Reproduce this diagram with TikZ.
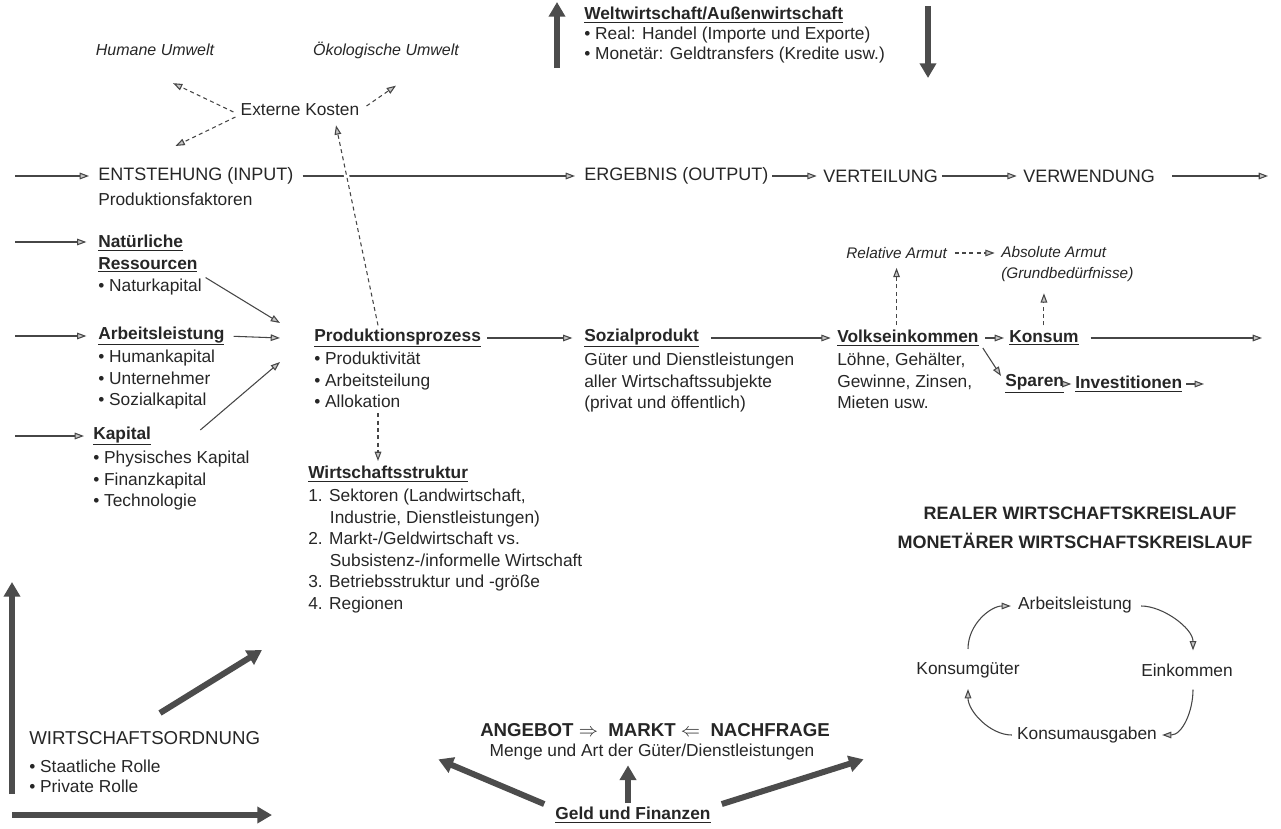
\documentclass[tikz,border=0pt]{standalone}
\usepackage{fontspec}
\setmainfont{Liberation Sans}
\usetikzlibrary{arrows.meta}
\newcommand{\ul}[1]{\underline{\textbf{#1}}}
\tikzset{
  txt/.style={inner sep=0.75pt, text=black!85, align=left, font=\fontsize{13}{16.1}\selectfont},
  big/.style={txt, font=\fontsize{13.5}{16}\selectfont},
  it/.style={txt, font=\fontsize{11.5}{16.1}\selectfont\itshape},
  arr/.style={draw=gray!55!black, line width=0.8pt, -{Triangle[length=7pt,width=5pt,fill=gray!45]}},
  darr/.style={arr, dash pattern=on 3pt off 2.5pt},
  fat/.style={draw=gray!60!black, line width=4.5pt, -{Triangle[length=11pt,width=12pt]}},
}
\begin{document}
\begin{tikzpicture}[x=0.75pt,y=0.75pt,yscale=-1,xscale=1]
\useasboundingbox (0,0) rectangle (1281,828);
% Weltwirtschaft
\node (welt) [txt, anchor=north west, font=\fontsize{13}{15}\selectfont] at (583,6) {\ul{Weltwirtschaft/Außenwirtschaft}\\• Real: Handel (Importe und Exporte)\\• Monetär: Geldtransfers (Kredite usw.)};
\coordinate (wu1) at (557,68); \coordinate (wu2) at (557,2);
\coordinate (wd1) at (928,6); \coordinate (wd2) at (928,78);
\draw [fat] (wu1) -- (wu2);
\draw [fat] (wd1) -- (wd2);
% externe Kosten
\node (hum) [it, font=\fontsize{12}{16}\selectfont\itshape] at (155,50) {Humane Umwelt};
\node (oek) [it, font=\fontsize{12}{16}\selectfont\itshape] at (386,50) {Ökologische Umwelt};
\node (ext) [txt] at (300,110) {Externe Kosten};
\draw [darr] ([shift={(-6,2)}]ext.west) -- ([shift={(18,26)}]hum.south);
\draw [darr] ([shift={(-4,7)}]ext.west) -- ([shift={(-64,36)}]ext.west);
\draw [darr] ([shift={(6,-4)}]ext.east) -- ([shift={(10,26)}]oek.south);
% Hauptreihe
\coordinate (in0) at (15,176);
\node (ent) [big, anchor=west] at (97,176) {ENTSTEHUNG (INPUT)};
\node (entf) [txt, anchor=west] at (97,199) {Produktionsfaktoren};
\node (erg) [big, anchor=west] at (583,176) {ERGEBNIS (OUTPUT)};
\node (vert) [big, anchor=west] at (822,176) {VERTEILUNG};
\node (verw) [big, anchor=west] at (1022,176) {VERWENDUNG};
\coordinate (out0) at (1268,176);
\draw [arr, shorten >=6pt] (in0) -- (ent.west);
\draw [arr, shorten <=6pt, shorten >=6pt] (ent.east) -- (erg.west);
\draw [arr, shorten <=2pt, shorten >=4pt] (erg.east) -- (vert.west);
\draw [arr, shorten <=2pt, shorten >=4pt] (vert.east) -- (verw.west);
\draw [arr, shorten <=12pt] (verw.east) -- (out0);
% Produktionsfaktoren
\node (nat) [txt, anchor=north west] at (97,234) {\ul{Natürliche}\\\ul{Ressourcen}};
\node (natb) [txt, anchor=north west] at (97,278) {• Naturkapital};
\node (arb) [txt, anchor=west] at (97,336) {\ul{Arbeitsleistung}};
\node (arbb) [txt, anchor=north west] at (97,349) {• Humankapital\\• Unternehmer\\• Sozialkapital};
\node (kap) [txt, anchor=west] at (92,436) {\ul{Kapital}};
\node (kapb) [txt, anchor=north west] at (92,450) {• Physisches Kapital\\• Finanzkapital\\• Technologie};
\coordinate (in1) at (15,242); \coordinate (in2) at (15,336); \coordinate (in3) at (15,436);
\draw [arr, shorten >=8pt] (in1) -- (in1 -| nat.west);
\draw [arr, shorten >=8pt] (in2) -- (arb.west);
\draw [arr, shorten >=6pt] (in3) -- (kap.west);
% Produktionsprozess
\node (prod) [txt, anchor=west] at (313,338) {\ul{Produktionsprozess}};
\node (prodb) [txt, anchor=north west] at (313,351) {• Produktivität\\• Arbeitsteilung\\• Allokation};
\coordinate (pin) at (280,338);
\draw [arr, shorten <=6pt] (nat.south east) -- ([shift={(0,-15)}]pin);
\draw [arr, shorten <=6pt] (arb.east) -- (pin);
\draw [arr] ([shift={(48,-6)}]kap.east) -- ([shift={(0,24)}]pin);
\draw [darr, preaction={draw=white, line width=4pt, dash pattern=}] ([shift={(65,-2)}]prod.north west) -- ([shift={(36,8)}]ext.south);
% Wirtschaftsstruktur
\node (ws) [txt, anchor=west] at (307,474) {\ul{Wirtschaftsstruktur}};
\node (wsb) [txt, anchor=north west] at (307,488) {1. Sektoren (Landwirtschaft,\\\hspace*{1.25em}Industrie, Dienstleistungen)\\2. Markt-/Geldwirtschaft vs.\\\hspace*{1.25em}Subsistenz-/informelle Wirtschaft\\3. Betriebsstruktur und -größe\\4. Regionen};
\draw [darr] ([shift={(65,4)}]prodb.south west) -- ([shift={(71,-4)}]ws.north west);
% Sozialprodukt und Volkseinkommen
\node (sp) [txt, anchor=west] at (583,338) {\ul{Sozialprodukt}};
\node (spb) [txt, anchor=north west] at (583,352) {Güter und Dienstleistungen\\aller Wirtschaftssubjekte\\(privat und öffentlich)};
\node (vk) [txt, anchor=west] at (836,338) {\ul{Volkseinkommen}};
\node (vkb) [txt, anchor=north west] at (836,352) {Löhne, Gehälter,\\Gewinne, Zinsen,\\Mieten usw.};
\node (kon) [txt, anchor=west] at (1008,338) {\ul{Konsum}};
\node (spa) [txt, anchor=west] at (1004,384) {\ul{Sparen}};
\node (inv) [txt, anchor=west] at (1074,384) {\ul{Investitionen}};
\coordinate (out1) at (1262,338); \coordinate (out2) at (1262,384);
\draw [arr, shorten <=4pt, shorten >=8pt] (prod.east) -- (sp.west);
\draw [arr, shorten <=8pt, shorten >=4pt] (sp.east) -- (vk.west);
\draw [arr, shorten <=4pt, shorten >=3pt] (vk.east) -- (kon.west);
\draw [arr] ([shift={(3,10)}]vk.east) -- ([shift={(-3,-8)}]spa.west);
\draw [arr, shorten <=8pt] (kon.east) -- (out1);
\draw [arr, shorten <=2pt, shorten >=2pt] (spa.east) -- (inv.west);
\draw [arr, shorten <=2pt] (inv.east) -- ([shift={(-58,0)}]out2);
% Armut
\node (rel) [it, anchor=west] at (845,253) {Relative Armut};
\node (abs) [it, anchor=north west] at (1000,245) {Absolute Armut\\(Grundbedürfnisse)};
\draw [darr, shorten <=5pt, shorten >=4pt] (rel.east) -- (rel.east -| abs.west);
\draw [darr] ([shift={(0,-4)}]vk.north -| rel.south) -- ([shift={(0,8)}]rel.south);
\draw [darr] ([shift={(0,-4)}]kon.north) -- ([shift={(0,10)}]kon.north |- abs.south);
% Kreislauf
\node (real) [txt, font=\fontsize{13.5}{16}\selectfont\bfseries] at (1080,513) {REALER WIRTSCHAFTSKREISLAUF};
\node (mon) [txt, font=\fontsize{13.5}{16}\selectfont\bfseries] at (1075,541) {MONETÄRER WIRTSCHAFTSKREISLAUF};
\node (al) [txt] at (1075,605) {Arbeitsleistung};
\node (ek) [txt] at (1187,670) {Einkommen};
\node (ka) [txt] at (1087,735) {Konsumausgaben};
\node (kg) [txt] at (968,670) {Konsumgüter};
\draw [arr] ([shift={(8,1)}]al.east) .. controls +(22,0) and +(0,-22) .. ([shift={(6,-12)}]ek.north);
\draw [arr] ([shift={(6,12)}]ek.south) .. controls +(0,22) and +(20,0) .. ([shift={(4,0)}]ka.east);
\draw [arr] ([shift={(-4,0)}]ka.west) .. controls +(-22,0) and +(0,22) .. ([shift={(0,10)}]kg.south);
\draw [arr] ([shift={(0,-12)}]kg.north) .. controls +(0,-25) and +(-20,0) .. ([shift={(-6,1)}]al.west);
% Wirtschaftsordnung
\node (wo) [txt, anchor=west, font=\fontsize{14}{16}\selectfont] at (28,738) {WIRTSCHAFTSORDNUNG};
\node (wob) [txt, anchor=north west, font=\fontsize{13}{15}\selectfont] at (28,759) {• Staatliche Rolle\\• Private Rolle};
\coordinate (wo1) at (12,794); \coordinate (wo2) at (12,582);
\coordinate (wo3) at (160,713); \coordinate (wo4) at (262,650);
\coordinate (wo5) at (12,815); \coordinate (wo6) at (272,815);
\draw [fat] (wo1) -- (wo2);
\draw [fat] (wo3) -- (wo4);
\draw [fat] (wo5) -- (wo6);
% Markt
\node (markt) [txt, font=\fontsize{14}{16}\selectfont\bfseries] at (655,730) {ANGEBOT $\Rightarrow$\ \ MARKT $\Leftarrow$\ \ NACHFRAGE};
\node (menge) [txt] at (652,752) {Menge und Art der Güter/Dienstleistungen};
\node (geld) [txt] at (633,815) {\ul{Geld und Finanzen}};
\draw [fat] ([shift={(-10,-2)}]geld.north west) -- ([shift={(-50,-2)}]menge.south west);
\draw [fat] ([shift={(-5,-3)}]geld.north) -- ([shift={(-24,4)}]menge.south);
\draw [fat] ([shift={(10,-2)}]geld.north east) -- ([shift={(48,-2)}]menge.south east);
\end{tikzpicture}
\end{document}
